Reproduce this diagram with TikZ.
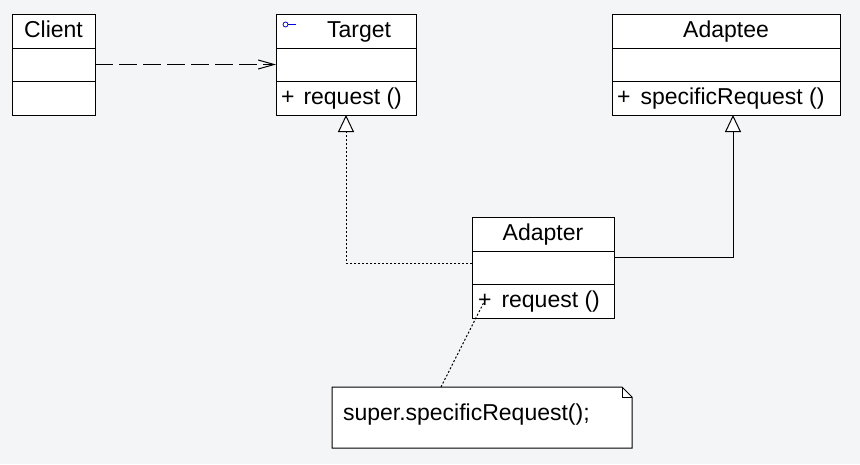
\documentclass[tikz,border=0pt]{standalone}
\usepackage{fontspec}
\setmainfont{Liberation Sans}
\usetikzlibrary{arrows.meta}
\definecolor{bgc}{HTML}{F4F5F7}
\definecolor{iconblue}{HTML}{0000E0}
\begin{document}
\begin{tikzpicture}[x=1pt,y=-1pt,
  cls/.style={draw=black, fill=white, line width=1pt, rectangle, inner sep=0pt, outer sep=0pt, anchor=north west},
  lbl/.style={inner sep=0pt, outer sep=0pt, anchor=base, font=\fontsize{23}{27}\selectfont},
  lbll/.style={lbl, anchor=base west},
  rowline/.style={line width=1pt},
  dep/.style={line width=1pt, dash pattern=on 18pt off 6pt, -{Straight Barb[length=16pt,width=9pt,line width=1pt]}},
  real/.style={line width=1pt, dash pattern=on 2pt off 2pt, -{Triangle[length=17pt,width=16pt,fill=white,line width=1pt]}},
  gen/.style={line width=1pt, -{Triangle[length=17pt,width=16pt,fill=white,line width=1pt]}},
  anch/.style={line width=1pt, dash pattern=on 2pt off 2pt}
]
\useasboundingbox[fill=bgc] (0,0) rectangle (860,464);

% Client
\node[cls, minimum width=83pt, minimum height=101pt] (client) at (12,14) {};
\draw[rowline] ([yshift=-34pt]client.north west) -- ([yshift=-34pt]client.north east);
\draw[rowline] ([yshift=-67pt]client.north west) -- ([yshift=-67pt]client.north east);
\node[lbl] (clientT) at (53.5,37) {Client};

% Target
\node[cls, minimum width=140pt, minimum height=101pt] (target) at (276,14) {};
\draw[rowline] ([yshift=-34pt]target.north west) -- ([yshift=-34pt]target.north east);
\draw[rowline] ([yshift=-67pt]target.north west) -- ([yshift=-67pt]target.north east);
\node[lbl] (targetT) at (359,37) {Target};
\node[draw=iconblue, circle, inner sep=0pt, minimum size=5pt, line width=0.8pt] (icon) at (285.5,24.5) {};
\coordinate (iconend) at (296,24.5);
\draw[iconblue, line width=0.8pt] (icon.east) -- (iconend);
\node[lbll] (targetP) at (281,104) {+};
\node[lbll] (targetM) at (303.5,104) {request ()};

% Adaptee
\node[cls, minimum width=228pt, minimum height=101pt] (adaptee) at (612,14) {};
\draw[rowline] ([yshift=-34pt]adaptee.north west) -- ([yshift=-34pt]adaptee.north east);
\draw[rowline] ([yshift=-67pt]adaptee.north west) -- ([yshift=-67pt]adaptee.north east);
\node[lbl] (adapteeT) at (726,37) {Adaptee};
\node[lbll] (adapteeP) at (617,104) {+};
\node[lbll] (adapteeM) at (640.5,104) {specificRequest ()};

% Adapter
\node[cls, minimum width=142pt, minimum height=101pt] (adapter) at (472,217) {};
\draw[rowline] ([yshift=-34pt]adapter.north west) -- ([yshift=-34pt]adapter.north east);
\draw[rowline] ([yshift=-67pt]adapter.north west) -- ([yshift=-67pt]adapter.north east);
\node[lbl] (adapterT) at (543,240) {Adapter};
\node[lbll] (adapterP) at (478,307) {+};
\node[lbll] (adapterM) at (501.5,307) {request ()};

% Note
\node[inner sep=0pt, outer sep=0pt, minimum width=300pt, minimum height=61pt, anchor=north west] (note) at (332,387) {};
\draw[line width=1pt, fill=white] (note.south west) -- (note.north west) -- ([xshift=-10pt]note.north east) -- ([yshift=-10pt]note.north east) -- (note.south east) -- cycle;
\draw[line width=1pt] ([xshift=-10pt]note.north east) -- ([xshift=-10pt,yshift=-10pt]note.north east) -- ([yshift=-10pt]note.north east);
\node[lbll] (noteT) at (343,420) {super.specificRequest();};

% Connectors
\draw[dep] (client.east) -- (client.east -| target.west);
\draw[real] ([yshift=4.5pt]adapter.west) -| (target.south);
\draw[gen] ([yshift=10.5pt]adapter.east) -| ([xshift=7pt]adaptee.south);
\coordinate (ann) at (485,300);
\draw[anch] ([xshift=-41pt]note.north) -- (ann);
\end{tikzpicture}
\end{document}
